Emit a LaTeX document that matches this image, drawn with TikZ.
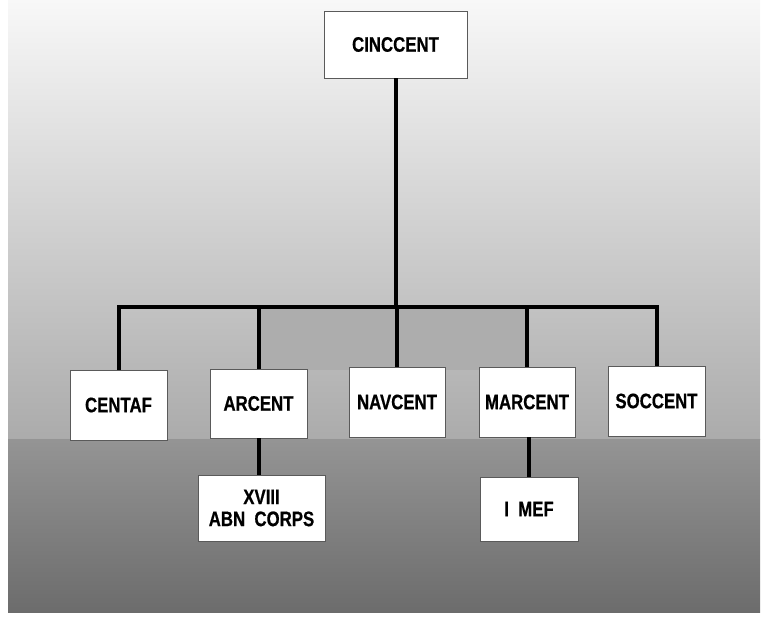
\documentclass[tikz,border=0pt]{standalone}
\usepackage{fontspec}
\newfontfamily\labfont[FakeStretch=0.8,FakeBold=0.6]{Liberation Sans}
\definecolor{bgtop}{HTML}{F8F8F8}
\definecolor{bgmid}{HTML}{ABABAB}
\definecolor{bglowtop}{HTML}{949494}
\definecolor{bgbottom}{HTML}{6C6C6C}
\definecolor{panel}{HTML}{ADADAD}
\definecolor{boxedge}{HTML}{5A5A5A}
\tikzset{
  unitbox/.style={draw=boxedge, line width=0.9pt, fill=white, inner sep=0pt,
    font=\labfont\bfseries\fontsize{21}{22}\selectfont, align=center},
  link/.style={line width=4pt, draw=black, line join=miter}
}
\begin{document}
\begin{tikzpicture}[x=1pt,y=-1pt]
\useasboundingbox (0,0) rectangle (764,617);
% background
\shade[top color=bgtop, bottom color=bgmid] (8,0) rectangle (760,440);
\shade[top color=bglowtop, bottom color=bgbottom] (8,440) rectangle (760,613);
\fill[panel] (259,307) rectangle (528,370);
% boxes
\node[unitbox, minimum width=143, minimum height=67] (cinc) at (395.5,44.5) {CINCCENT};
\node[unitbox, minimum width=97, minimum height=70] (centaf) at (118.5,405) {CENTAF};
\node[unitbox, minimum width=97, minimum height=69] (arcent) at (258.5,403.5) {ARCENT};
\node[unitbox, minimum width=96, minimum height=70] (navcent) at (397,402) {NAVCENT};
\node[unitbox, minimum width=96, minimum height=70] (marcent) at (527,402) {MARCENT};
\node[unitbox, minimum width=97, minimum height=70] (soccent) at (656.5,401) {SOCCENT};
\node[unitbox, minimum width=127, minimum height=66] (corps) at (261.5,508) {XVIII\\ABN\ \ CORPS};
\node[unitbox, minimum width=98, minimum height=64] (mef) at (529,509) {I\ \ MEF};
% connectors
\coordinate (bar) at (396,307);
\draw[link] (cinc.south) -- (cinc.south |- bar);
\draw[link] (centaf.north) -- (centaf.north |- bar) -- (soccent.north |- bar) -- (soccent.north);
\draw[link] (arcent.north) -- (arcent.north |- bar);
\draw[link] (navcent.north) -- (navcent.north |- bar);
\draw[link] (marcent.north) -- (marcent.north |- bar);
\draw[link] (arcent.south) -- (arcent.south |- corps.north);
\draw[link] (mef.north) -- (mef.north |- marcent.south);
\end{tikzpicture}
\end{document}
